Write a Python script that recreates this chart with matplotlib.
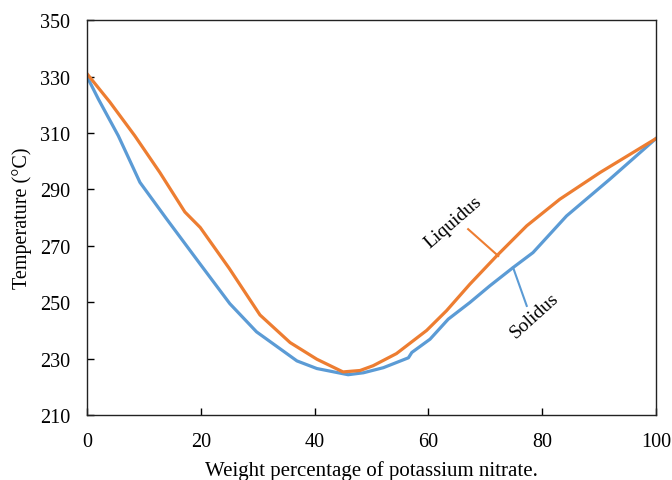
import matplotlib
matplotlib.use("Agg")
import matplotlib.pyplot as plt

# Liquidus and solidus of the binary nitrate system
liq_x = [0, 4, 8.4, 12.8, 17.2, 19.9, 25, 30.4, 35.7, 40.4, 45, 48, 50.3,
         54.4, 59.7, 63.2, 67.3, 72, 77.3, 83.1, 90.2, 100]
liq_t = [331, 321, 309, 296, 282, 276.5, 262, 245.5, 235.7, 229.8, 225.3,
         225.8, 227.5, 231.8, 240, 247, 256.4, 266.4, 277.1, 286.5, 296, 308]

sol_x = [0, 2, 5.5, 9.3, 14, 19.9, 25.1, 29.8, 36.9, 40.4, 45.9, 48.6, 52.1,
         56.5, 57.1, 60.3, 63.5, 67.3, 70.8, 74.9, 78.4, 84.3, 91.9, 100]
sol_t = [330, 322, 309, 292.5, 279.5, 263.5, 249.5, 239.5, 229.2, 226.5,
         224.3, 225, 226.8, 230.3, 232.2, 236.9, 244, 249.9, 255.8, 262.3,
         267.6, 280.6, 293.6, 308]

x_ticks = [0, 20, 40, 60, 80, 100]
y_ticks = [210, 230, 250, 270, 290, 310, 330, 350]

plt.rcParams['font.family'] = ['Liberation Serif', 'DejaVu Serif']

fig = plt.figure(figsize=(6.72, 4.81), dpi=100)
ax = fig.add_axes([0.1295, 0.135, 0.8465, 0.821])

ax.plot(sol_x, sol_t, color='#5B9BD5', lw=2.3, solid_joinstyle='round')
ax.plot(liq_x, liq_t, color='#ED7D31', lw=2.3, solid_joinstyle='round')

ax.set_xlim(0, 100)
ax.set_ylim(210, 350)
ax.set_xticks(x_ticks)
ax.set_yticks(y_ticks)
ax.tick_params(direction='in', length=5, width=1, labelsize=14.5, pad=12)
for s in ax.spines.values():
    s.set_linewidth(1)
    s.set_color('#222222')

ax.set_xlabel('Weight percentage of potassium nitrate.', fontsize=15)
ax.set_ylabel('Temperature (\u00b0C)', fontsize=14.5)
ax.xaxis.set_label_coords(0.5, -0.115)
ax.yaxis.set_label_coords(-0.097, 0.5)

# leader lines from the curve labels
ax.plot([67.0, 72.3], [275.9, 266.4], color='#ED7D31', lw=1.5)
ax.plot([74.9, 77.3], [262.3, 248.7], color='#5B9BD5', lw=1.5)
ax.text(64.3, 278.7, 'Liquidus', fontsize=14, rotation=41,
        ha='center', va='center')
ax.text(78.6, 245.4, 'Solidus', fontsize=14, rotation=42,
        ha='center', va='center')

fig.savefig('out.png', dpi=100)
